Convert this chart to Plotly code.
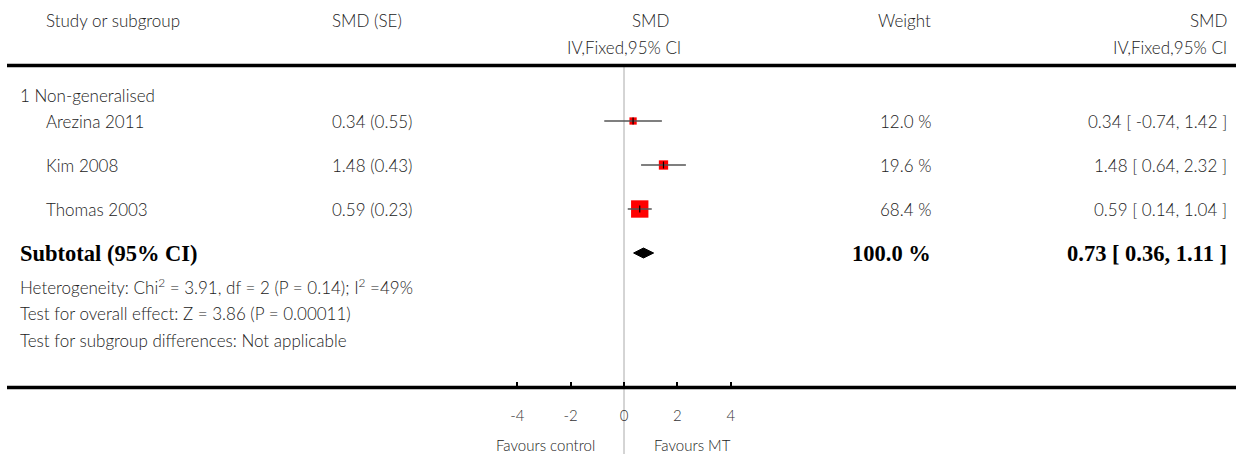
import plotly.graph_objects as go

# ---------------- data ----------------
studies = ["Arezina 2011", "Kim 2008", "Thomas 2003"]
smd = [0.34, 1.48, 0.59]
se = [0.55, 0.43, 0.23]
ci_lo = [-0.74, 0.64, 0.14]
ci_hi = [1.42, 2.32, 1.04]
weights = [12.0, 19.6, 68.4]

subgroup_label = "1 Non-generalised"
sub_est, sub_lo, sub_hi, sub_weight = 0.73, 0.36, 1.11, 100.0

heterogeneity = "Heterogeneity: Chi<sup>2</sup> = 3.91, df = 2 (P = 0.14); I<sup>2</sup> =49%"
overall_test = "Test for overall effect: Z = 3.86 (P = 0.00011)"
subgroup_test = "Test for subgroup differences: Not applicable"

tick_vals = [-4, -2, 0, 2, 4]
tick_text = ["-4", "-2", "0", "2", "4"]
favours_left = "Favours control"
favours_right = "Favours MT"

# ---------------- layout helpers ----------------
W, H = 1236, 454
X0_PX = 624.0          # pixel of SMD = 0
PX_PER_UNIT = 26.68    # pixels per SMD unit
ROW0_PX, ROW_STEP = 121.0, 44.0   # pixel of first study row, row spacing

def px_x(p):
    return p / W

def px_y(p):
    return 1 - p / H

x_range = [-X0_PX / PX_PER_UNIT, (W - X0_PX) / PX_PER_UNIT]
y_range = [1 + (H - ROW0_PX) / ROW_STEP, 1 - ROW0_PX / ROW_STEP]   # reversed

rows = [1, 2, 3]
sub_row = 4

FONT = "Lato"
TXT = "#222222"
fs = 17
BOLD = "Liberation Serif"
bfs = 22.5

fig = go.Figure()

# squares (area ~ weight)
fig.add_trace(go.Scatter(
    x=smd, y=rows, mode="markers",
    marker=dict(symbol="square", color="#ff0000", opacity=1,
                size=[2.1 * w ** 0.5 for w in weights], line=dict(width=0)),
    hoverinfo="skip", showlegend=False))

# CI lines
cx, cy = [], []
for lo, hi, r in zip(ci_lo, ci_hi, rows):
    cx += [lo, hi, None]
    cy += [r, r, None]
fig.add_trace(go.Scatter(x=cx, y=cy, mode="lines",
                         line=dict(color="#555555", width=1.5),
                         hoverinfo="skip", showlegend=False))
# point tick
fig.add_trace(go.Scatter(x=smd, y=rows, mode="markers",
                         marker=dict(symbol="line-ns", size=5, opacity=1,
                                     line=dict(color="#000000", width=1.2)),
                         hoverinfo="skip", showlegend=False))

# diamond
dh = 5.0 / ROW_STEP
fig.add_trace(go.Scatter(
    x=[sub_lo, sub_est, sub_hi, sub_est, sub_lo],
    y=[sub_row, sub_row - dh, sub_row, sub_row + dh, sub_row],
    mode="lines", fill="toself", fillcolor="#000000",
    line=dict(color="#000000", width=1), hoverinfo="skip", showlegend=False))

ann = []

def text(s, x, y, anchor="left", yref="paper", font=FONT, size=fs, color=TXT, weight=300):
    ann.append(dict(text=s, x=px_x(x), y=y, xref="paper", yref=yref,
                    xanchor=anchor, yanchor="middle", showarrow=False,
                    font=dict(family=font, size=size, color=color, weight=weight)))

# header
text("Study or subgroup", 44, px_y(20))
text("SMD (SE)", 330, px_y(20))
text("SMD", 650, px_y(20), "center")
text("IV,Fixed,95% CI", 624, px_y(47), "center")
text("Weight", 933, px_y(20), "right")
text("SMD", 1229, px_y(20), "right")
text("IV,Fixed,95% CI", 1229, px_y(47), "right")

# subgroup
text(subgroup_label, 18, px_y(96))
for name, m, s, w, lo, hi, r in zip(studies, smd, se, weights, ci_lo, ci_hi, rows):
    text(name, 44, r, yref="y")
    text(f"{m:.2f} ({s:.2f})", 330, r, yref="y")
    text(f"{w:.1f} %", 933, r, "right", yref="y")
    text(f"{m:.2f} [ {lo:.2f}, {hi:.2f} ]", 1229, r, "right", yref="y")

text("Subtotal (95% CI)", 18, sub_row, yref="y", font=BOLD, size=bfs, color="#000000", weight=700)
text(f"{sub_weight:.1f} %", 933, sub_row, "right", yref="y", font=BOLD, size=bfs, color="#000000", weight=700)
text(f"{sub_est:.2f} [ {sub_lo:.2f}, {sub_hi:.2f} ]", 1229, sub_row, "right", yref="y",
     font=BOLD, size=bfs, color="#000000", weight=700)

text(heterogeneity, 18, px_y(286))
text(overall_test, 18, px_y(313))
text(subgroup_test, 18, px_y(340))

text(favours_left, 597, px_y(445), "right", size=15)
text(favours_right, 652, px_y(445), "left", size=15)

shapes = [
    dict(type="line", xref="paper", yref="paper", x0=px_x(7), x1=1,
         y0=px_y(65.5), y1=px_y(65.5), line=dict(color="#000000", width=3.5)),
    dict(type="line", xref="paper", yref="paper", x0=px_x(7), x1=1,
         y0=px_y(387.5), y1=px_y(387.5), line=dict(color="#000000", width=3.5)),
    dict(type="line", xref="x", yref="paper", x0=0, x1=0,
         y0=px_y(67), y1=0, line=dict(color="#aaaaaa", width=1), layer="below"),
]

fig.update_layout(
    width=W, height=H, margin=dict(l=0, r=0, t=0, b=0),
    paper_bgcolor="white", plot_bgcolor="white",
    showlegend=False, annotations=ann, shapes=shapes,
    xaxis=dict(range=x_range, domain=[0, 1], anchor="free", position=px_y(387.5),
               showgrid=False, zeroline=False, showline=False,
               tickmode="array", tickvals=tick_vals, ticktext=tick_text,
               ticks="inside", ticklen=6, tickwidth=2, tickcolor="#000000",
               ticklabelstandoff=17,
               tickfont=dict(family=FONT, size=15, color="#333333", weight=300),
               fixedrange=True),
    yaxis=dict(range=y_range, domain=[0, 1], visible=False, fixedrange=True),
)

fig.write_html(
    "out.html",
    config={"displayModeBar": False},
    post_script="document.body.style.margin='0';document.documentElement.style.overflow='hidden';document.body.style.overflow='hidden';",
)
